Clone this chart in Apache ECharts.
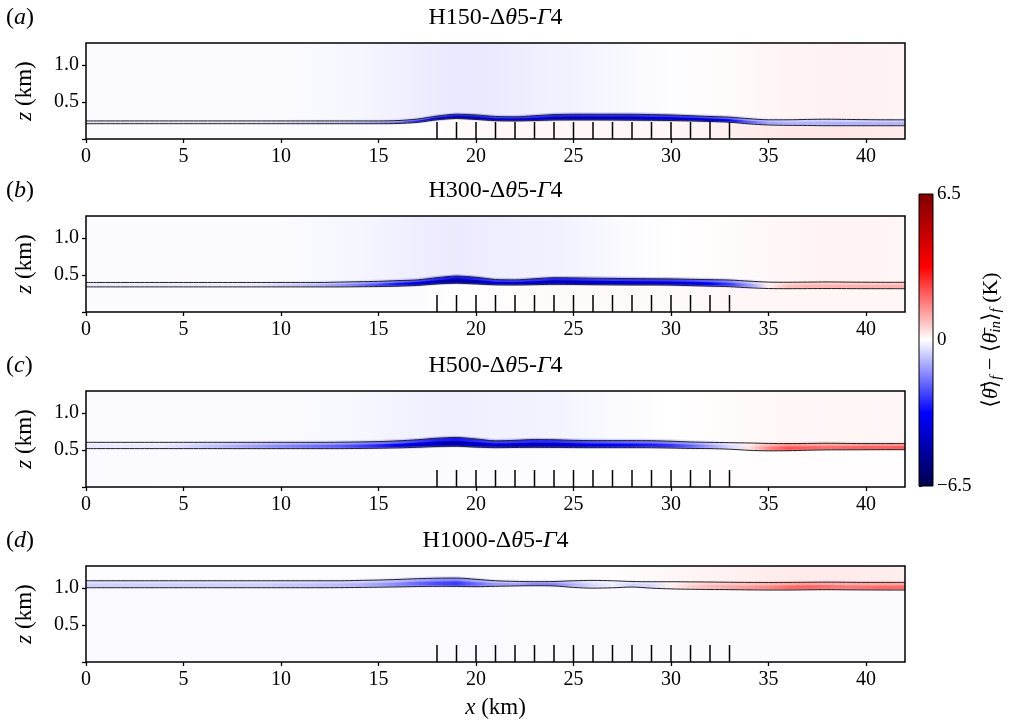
<!DOCTYPE html>
<html><head><meta charset="utf-8">
<script src="https://cdn.jsdelivr.net/npm/echarts@6/dist/echarts.min.js"></script>
<style>html,body{margin:0;padding:0;background:#fff}#c{width:1012px;height:726px}</style>
</head><body><div id="c"></div>
<script>
// ---------------- data ----------------
const panelLabels = ['a', 'b', 'c', 'd'];
const panelCases = ['150', '300', '500', '1000'];
const xKm = [0,1,2,3,4,5,6,7,8,9,10,11,12,13,14,15,16,17,18,19,20,21,22,23,24,25,26,27,28,29,30,31,32,33,34,35,36,37,38,39,40,41,42];
const xTicks = [0, 5, 10, 15, 20, 25, 30, 35, 40];
const zTicks = [0, 0.5, 1.0];
const zLabels = [0.5, 1.0];
const turbineX = [18,19,20,21,22,23,24,25,26,27,28,29,30,31,32,33];
const turbineTop = 0.23;

// inversion-layer contour heights (km)
const upperA = [0.245,0.245,0.245,0.245,0.245,0.245,0.245,0.245,0.245,0.245,0.245,0.245,0.245,0.245,0.245,0.245,0.25,0.27,0.31,0.335,0.325,0.305,0.30,0.315,0.33,0.335,0.335,0.335,0.335,0.33,0.325,0.315,0.305,0.295,0.275,0.26,0.26,0.265,0.268,0.265,0.262,0.26,0.26];
const lowerA = [0.207,0.207,0.207,0.207,0.207,0.207,0.207,0.207,0.207,0.207,0.207,0.207,0.207,0.207,0.207,0.207,0.21,0.225,0.26,0.278,0.265,0.248,0.245,0.25,0.257,0.258,0.258,0.257,0.255,0.253,0.25,0.245,0.237,0.228,0.205,0.19,0.185,0.183,0.18,0.18,0.18,0.18,0.18];
const upperB = [0.40,0.40,0.40,0.40,0.40,0.40,0.40,0.40,0.40,0.40,0.40,0.40,0.40,0.405,0.41,0.415,0.425,0.435,0.465,0.487,0.47,0.44,0.435,0.45,0.464,0.462,0.458,0.455,0.452,0.45,0.448,0.443,0.438,0.433,0.418,0.405,0.403,0.405,0.407,0.405,0.403,0.402,0.402];
const lowerB = [0.34,0.34,0.34,0.34,0.34,0.34,0.34,0.34,0.34,0.34,0.34,0.34,0.34,0.34,0.342,0.345,0.35,0.36,0.38,0.39,0.38,0.368,0.366,0.37,0.375,0.373,0.37,0.368,0.366,0.366,0.364,0.357,0.35,0.343,0.328,0.318,0.316,0.317,0.318,0.317,0.316,0.316,0.316];
const upperC = [0.605,0.605,0.605,0.605,0.605,0.605,0.605,0.605,0.605,0.605,0.605,0.605,0.605,0.607,0.61,0.615,0.625,0.64,0.66,0.67,0.65,0.625,0.632,0.642,0.64,0.632,0.628,0.628,0.628,0.627,0.62,0.61,0.605,0.60,0.596,0.59,0.588,0.59,0.593,0.59,0.588,0.588,0.588];
const lowerC = [0.52,0.52,0.52,0.52,0.52,0.52,0.52,0.52,0.52,0.52,0.52,0.52,0.52,0.52,0.522,0.525,0.53,0.538,0.548,0.552,0.54,0.533,0.535,0.537,0.536,0.534,0.533,0.533,0.533,0.532,0.528,0.522,0.52,0.512,0.497,0.49,0.492,0.498,0.503,0.504,0.505,0.506,0.506];
const upperD = [1.10,1.10,1.10,1.10,1.10,1.10,1.10,1.10,1.10,1.10,1.10,1.10,1.10,1.10,1.105,1.11,1.118,1.128,1.135,1.137,1.12,1.10,1.092,1.088,1.09,1.10,1.105,1.10,1.09,1.087,1.087,1.085,1.083,1.08,1.078,1.077,1.078,1.08,1.082,1.08,1.078,1.078,1.078];
const lowerD = [1.006,1.006,1.006,1.006,1.006,1.006,1.006,1.006,1.006,1.006,1.006,1.006,1.006,1.007,1.01,1.013,1.017,1.022,1.025,1.024,1.02,1.025,1.03,1.033,1.03,1.01,1.0,1.005,1.015,1.0,0.99,0.985,0.982,0.98,0.977,0.975,0.975,0.978,0.98,0.978,0.976,0.975,0.975];

// peak temperature anomaly inside the inversion layer (K)
const bandA = [-0.4,-0.4,-0.4,-0.4,-0.4,-0.4,-0.4,-0.4,-0.4,-0.4,-0.5,-0.6,-0.7,-0.8,-1.0,-1.3,-1.8,-2.8,-4.0,-4.6,-4.4,-4.0,-4.0,-4.2,-4.5,-4.5,-4.4,-4.4,-4.4,-4.3,-4.2,-4.0,-3.8,-3.2,-2.0,-1.2,-1.0,-1.0,-1.0,-1.0,-1.0,-1.0,-1.0];
const bandB = [-0.3,-0.3,-0.3,-0.3,-0.3,-0.3,-0.3,-0.3,-0.3,-0.4,-0.6,-0.8,-1.0,-1.3,-1.7,-2.3,-3.0,-3.8,-4.5,-5.0,-4.6,-4.0,-4.0,-4.3,-4.6,-4.5,-4.3,-4.2,-4.2,-4.1,-4.0,-3.7,-3.2,-2.5,-1.3,0.2,0.8,1.0,1.0,1.0,1.0,1.0,1.0];
const bandC = [-0.3,-0.3,-0.3,-0.3,-0.3,-0.5,-0.7,-0.9,-1.1,-1.3,-1.5,-1.7,-1.9,-2.1,-2.4,-2.8,-3.3,-4.0,-4.6,-4.8,-4.4,-4.0,-4.2,-4.4,-4.3,-4.0,-3.6,-3.3,-3.1,-2.9,-2.6,-2.0,-1.2,-0.5,0.3,1.5,2.2,2.0,1.8,1.9,2.0,2.0,2.1];
const bandD = [-0.6,-0.6,-0.6,-0.6,-0.6,-0.6,-0.6,-0.6,-0.6,-0.6,-0.7,-0.75,-0.8,-0.9,-1.0,-1.2,-1.5,-1.9,-2.3,-2.5,-1.9,-1.3,-1.2,-1.6,-1.6,-1.0,-0.5,-0.2,-0.6,-0.5,0.2,0.6,0.9,1.1,1.3,1.5,1.9,2.0,1.8,1.7,1.8,1.9,1.9];

// weak background anomaly above / below the layer (K)
const bgX = [0,5,10,14,17,19,21,24,27,30,33,36,39,42];
const bgTopA = [-0.05,-0.05,-0.06,-0.12,-0.22,-0.28,-0.25,-0.18,-0.1,-0.02,0.05,0.14,0.18,0.15];
const bgBotA = [-0.05,-0.05,-0.05,-0.05,0,0.06,0.1,0.12,0.12,0.12,0.2,0.3,0.3,0.25];
const bgTopB = [-0.05,-0.05,-0.06,-0.12,-0.22,-0.26,-0.22,-0.18,-0.08,0,0.05,0.12,0.15,0.12];
const bgBotB = [-0.05,-0.05,-0.05,-0.05,-0.05,0,0.03,0.06,0.06,0.06,0.1,0.12,0.12,0.12];
const bgTopC = [-0.05,-0.05,-0.06,-0.1,-0.18,-0.22,-0.18,-0.15,-0.07,0,0.05,0.1,0.12,0.1];
const bgBotC = [-0.08,-0.06,-0.06,-0.06,-0.06,-0.04,-0.04,-0.02,0,0,0.02,0.03,0.03,0.03];
const bgTopD = [-0.03,-0.03,-0.03,-0.03,-0.06,-0.06,-0.03,0,0.03,0.1,0.18,0.25,0.25,0.22];
const bgBotD = [-0.08,-0.08,-0.08,-0.08,-0.08,-0.08,-0.08,-0.07,-0.07,-0.07,-0.07,-0.07,-0.07,-0.07];

const panels = [
  {upper: upperA, lower: lowerA, band: bandA, bgTop: bgTopA, bgBot: bgBotA},
  {upper: upperB, lower: lowerB, band: bandB, bgTop: bgTopB, bgBot: bgBotB},
  {upper: upperC, lower: lowerC, band: bandC, bgTop: bgTopC, bgBot: bgBotC},
  {upper: upperD, lower: lowerD, band: bandD, bgTop: bgTopD, bgBot: bgBotD}
];

// ---------------- helpers ----------------
const VMAX = 6.5, XMAX = 42, ZMAX = 1.3;
const SERIF = '"Liberation Serif", "DejaVu Serif", serif';
const seismicStops = [[0,[0,0,76]],[0.25,[0,0,255]],[0.5,[255,255,255]],[0.75,[255,0,0]],[1,[128,0,0]]];
function seismic(v, a) {
  let t = (v + VMAX) / (2 * VMAX); t = Math.max(0, Math.min(1, t));
  for (let k = 0; k < seismicStops.length - 1; k++) {
    const [t0, c0] = seismicStops[k], [t1, c1] = seismicStops[k + 1];
    if (t <= t1) {
      const f = (t - t0) / (t1 - t0);
      const c = c0.map((v0, j) => Math.round(v0 + (c1[j] - v0) * f));
      return 'rgba(' + c[0] + ',' + c[1] + ',' + c[2] + ',' + (a == null ? 1 : a) + ')';
    }
  }
  return 'rgb(128,0,0)';
}

function heatRender(p) {
  return function (params, api) {
    const c = (x, z) => api.coord([x, z]);
    const x0 = c(0, 0)[0], x1 = c(XMAX, 0)[0];
    const grad = (xs, vals, s, a) => new echarts.graphic.LinearGradient(x0, 0, x1, 0,
      xs.map((x, i) => ({offset: x / XMAX, color: seismic(vals[i] * s, a)})), true);
    const curve = (f) => xKm.map((x, i) => c(x, f(i)));
    const up = curve(i => p.upper[i]);
    const lo = curve(i => p.lower[i]);
    const poly = (top, bot, fill) => ({type: 'polygon', shape: {points: top.concat(bot.slice().reverse())}, style: {fill: fill}});
    const children = [];
    children.push(poly([c(0, ZMAX), c(XMAX, ZMAX)], up, grad(bgX, p.bgTop, 1, 1)));
    children.push(poly(lo, [c(0, 0), c(XMAX, 0)], grad(bgX, p.bgBot, 1, 1)));
    // halo, layer, core
    children.push(poly(curve(i => p.upper[i] + 0.025), curve(i => p.lower[i] - 0.015), grad(xKm, p.band, 0.3, 0.6)));
    children.push(poly(up, lo, grad(xKm, p.band, 0.62, 1)));
    children.push(poly(curve(i => p.lower[i] + 0.6 * (p.upper[i] - p.lower[i])),
                       curve(i => p.lower[i] + 0.12 * (p.upper[i] - p.lower[i])), grad(xKm, p.band, 1, 1)));
    return {type: 'group', children: children};
  };
}

function turbineRender(params, api) {
  const x = api.value(0), top = api.value(1);
  const a = api.coord([x, 0]), b = api.coord([x, top]);
  return {type: 'line', shape: {x1: a[0], y1: a[1], x2: b[0], y2: b[1]}, style: {stroke: '#000', lineWidth: 1.5}};
}

function cbarRender(params, api) {
  const a = api.coord([0, VMAX]), b = api.coord([1, -VMAX]);
  const stops = seismicStops.map(s => ({offset: 1 - s[0], color: 'rgb(' + s[1].join(',') + ')'})).reverse();
  return {type: 'rect', shape: {x: a[0], y: a[1], width: b[0] - a[0], height: b[1] - a[1]},
    style: {fill: new echarts.graphic.LinearGradient(0, a[1], 0, b[1], stops, true)}};
}

// ---------------- layout ----------------
const gridTops = [43, 216, 391, 566];
const grids = gridTops.map(t => ({left: 86, top: t, width: 819, height: 96, show: true, borderColor: '#000', borderWidth: 1.5, backgroundColor: 'transparent', z: 10}));
grids.push({left: 919, top: 194, width: 14, height: 292, show: true, borderColor: '#000', borderWidth: 1, backgroundColor: 'transparent', z: 10});

const tickStyle = {color: '#000', width: 1.3};
const labelFont = {fontFamily: SERIF, fontSize: 20, color: '#000'};
const NAME_FS = 23;
const nameRichI = {fontFamily: SERIF, fontSize: NAME_FS, fontStyle: 'italic', color: '#000'};
const xAxes = gridTops.map((t, i) => ({
  gridIndex: i, type: 'value', min: 0, max: XMAX,
  axisLine: {show: false}, splitLine: {show: false},
  axisTick: {show: true, customValues: xTicks, length: 4, lineStyle: tickStyle},
  axisLabel: Object.assign({customValues: xTicks, margin: 8}, labelFont),
  name: i === 3 ? '{i|x} (km)' : '', nameLocation: 'middle', nameGap: 34,
  nameTextStyle: {fontFamily: SERIF, fontSize: NAME_FS, color: '#000', rich: {i: nameRichI}}
}));
xAxes.push({gridIndex: 4, type: 'value', min: 0, max: 1, show: false});
const yAxes = gridTops.map((t, i) => ({
  gridIndex: i, type: 'value', min: 0, max: ZMAX,
  axisLine: {show: false}, splitLine: {show: false},
  axisTick: {show: true, customValues: zTicks, length: 4, lineStyle: tickStyle},
  axisLabel: Object.assign({customValues: zLabels, margin: 7, formatter: v => v.toFixed(1)}, labelFont),
  name: '{i|z} (km)', nameLocation: 'middle', nameRotate: 90, nameGap: 50,
  nameTextStyle: {fontFamily: SERIF, fontSize: NAME_FS, color: '#000', rich: {i: nameRichI}}
}));
const cbRich = {
  n: {fontFamily: SERIF, fontSize: 22, color: '#000'},
  i: {fontFamily: SERIF, fontSize: 22, fontStyle: 'italic', color: '#000'},
  s: {fontFamily: SERIF, fontSize: 15, fontStyle: 'italic', color: '#000', verticalAlign: 'bottom', padding: [10, 0, 0, 0]}
};
yAxes.push({
  gridIndex: 4, type: 'value', min: -VMAX, max: VMAX, interval: VMAX, position: 'right',
  axisLine: {show: false}, splitLine: {show: false},
  axisTick: {show: true, length: 3, lineStyle: {color: '#000', width: 1}},
  axisLabel: Object.assign({margin: 4, formatter: v => (v < 0 ? '\u2212' + Math.abs(v) : String(v))}, labelFont, {fontSize: 19}),
  name: '{n|\u27E8}{i|\u03B8\u0304}{n|\u27E9}{s|f}{n| \u2212 \u27E8}{i|\u03B8\u0304}{s|in}{n|\u27E9}{s|f}{n| (K)}',
  nameLocation: 'middle', nameRotate: 90, nameGap: 46,
  nameTextStyle: {fontFamily: SERIF, fontSize: 22, color: '#000', rich: cbRich}
});

const series = [];
panels.forEach((p, i) => {
  series.push({type: 'custom', xAxisIndex: i, yAxisIndex: i, data: [[0, 0]], renderItem: heatRender(p), clip: true, z: 1, silent: true});
  [p.upper, p.lower].forEach(arr => series.push({
    type: 'line', xAxisIndex: i, yAxisIndex: i, data: xKm.map((x, k) => [x, arr[k]]),
    symbol: 'none', smooth: 0.3, lineStyle: {color: '#222', width: 1}, z: 3, silent: true
  }));
  series.push({type: 'custom', xAxisIndex: i, yAxisIndex: i, data: turbineX.map(x => [x, turbineTop]), renderItem: turbineRender, z: 4, silent: true});
});
series.push({type: 'custom', xAxisIndex: 4, yAxisIndex: 4, data: [[0, 0]], renderItem: cbarRender, z: 1, silent: true});

const TITLE_FS = 24;
const titleRich = {
  n: {fontFamily: SERIF, fontSize: TITLE_FS, color: '#000'},
  i: {fontFamily: SERIF, fontSize: TITLE_FS, fontStyle: 'italic', color: '#000'}
};
const graphic = [];
gridTops.forEach((t, i) => {
  graphic.push({type: 'text', x: 6, y: t - 25, style: {text: '{n|(}{i|' + panelLabels[i] + '}{n|)}', rich: titleRich, verticalAlign: 'middle', align: 'left'}});
  graphic.push({type: 'text', x: 495.5, y: t - 25, style: {text: '{n|H' + panelCases[i] + '-\u0394}{i|\u03B8}{n|5-}{i|\u0393}{n|4}', rich: titleRich, verticalAlign: 'middle', align: 'center'}});
});

const chart = echarts.init(document.getElementById('c'), null, {renderer: 'canvas'});
chart.setOption({
  animation: false,
  backgroundColor: '#fff',
  grid: grids, xAxis: xAxes, yAxis: yAxes, series: series, graphic: graphic
});
</script></body></html>
